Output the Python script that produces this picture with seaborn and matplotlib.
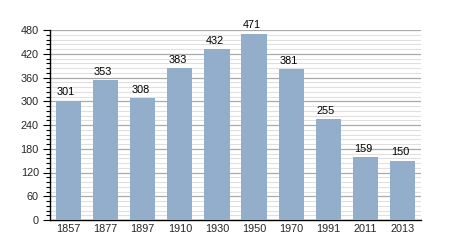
import matplotlib
matplotlib.use("Agg")
import matplotlib.pyplot as plt
import matplotlib.transforms as mtransforms
import seaborn as sns
import pandas as pd
from matplotlib.ticker import MultipleLocator

years = ["1857", "1877", "1897", "1910", "1930", "1950", "1970", "1991", "2011", "2013"]
population = [301, 353, 308, 383, 432, 471, 381, 255, 159, 150]

df = pd.DataFrame({"year": years, "pop": population})

sns.set_style("white")
plt.rcParams['font.family'] = ['Liberation Sans', 'DejaVu Sans']

fig = plt.figure(figsize=(4.5, 2.5), dpi=100)
ax = fig.add_axes([50/450, 30/250, 371/450, 190/250])

sns.barplot(data=df, x="year", y="pop", color="#93aeca", saturation=1, width=0.68,
            linewidth=0, edgecolor="none", ax=ax, zorder=3)

ax.set_ylim(0, 480)
ax.set_xlim(-0.5, len(years) - 0.5)
ax.yaxis.set_major_locator(MultipleLocator(60))
ax.yaxis.set_minor_locator(MultipleLocator(12))
ax.grid(which="major", axis="y", color="#aaaaaa", linewidth=0.9, zorder=0)
ax.grid(which="minor", axis="y", color="#e0e0e0", linewidth=0.8, zorder=0)
ax.set_axisbelow(True)

for s in ["top", "right"]:
    ax.spines[s].set_visible(False)
ax.spines["left"].set_color("black")
ax.spines["bottom"].set_color("black")
ax.spines["left"].set_linewidth(1)
ax.spines["bottom"].set_linewidth(1)

ax.tick_params(axis="y", which="major", length=5, width=0.8, color="black", labelsize=7.8, left=True, pad=3)
ax.tick_params(axis="y", which="minor", length=3, width=0.8, color="black", left=True)
ax.tick_params(axis="x", length=0, labelsize=7.8, pad=3)
ax.set_xlabel("")
ax.set_ylabel("")

trans = mtransforms.offset_copy(ax.transData, fig=fig, x=-2.5, y=3.5, units="dots")
for i, v in enumerate(population):
    ax.text(i, v, str(v), ha="center", va="bottom", fontsize=7.8, color="black", transform=trans)

fig.savefig("out.png", dpi=100)
